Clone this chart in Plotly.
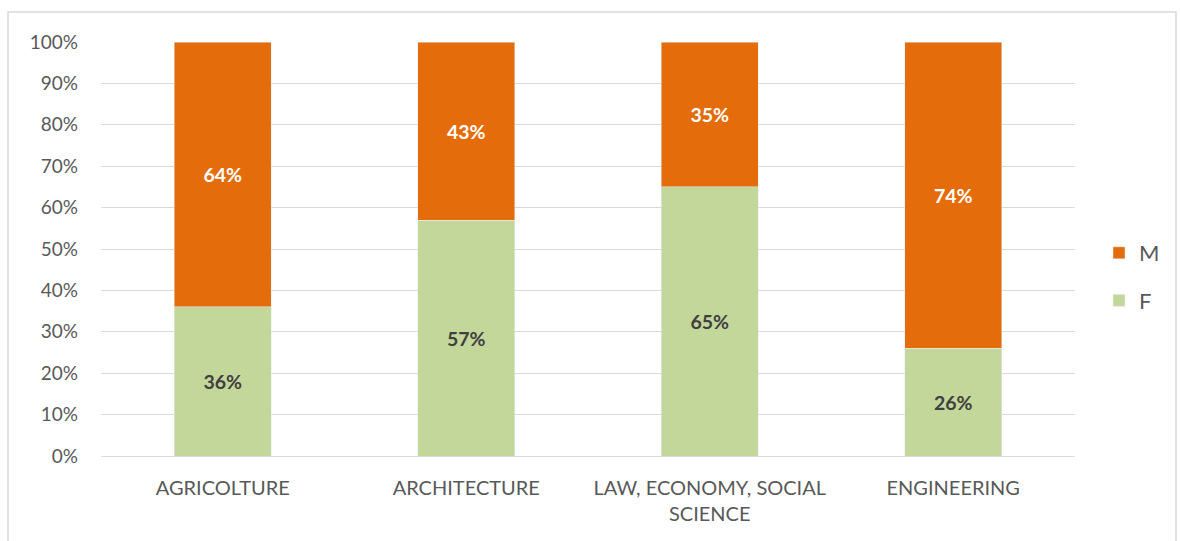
import plotly.graph_objects as go

categories = ["AGRICOLTURE", "ARCHITECTURE", "LAW, ECONOMY, SOCIAL<br>SCIENCE", "ENGINEERING"]
female = [36, 57, 65, 26]
male = [64, 43, 35, 74]
tick_vals = [0, 10, 20, 30, 40, 50, 60, 70, 80, 90, 100]
tick_text = [f"{v}%" for v in tick_vals]

FONT = "Lato, 'Open Sans', sans-serif"
GREEN = "#C4D79B"
ORANGE = "#E46C0A"

fig = go.Figure()
fig.add_trace(go.Bar(
    x=categories, y=female, name="F", marker_color=GREEN,
    text=[f"{v}%" for v in female], textposition="inside", insidetextanchor="middle",
    textfont=dict(family=FONT, size=19.5, color="#404040", weight="bold"),
    legendrank=2, legendgroup="F", width=0.4,
))
fig.add_trace(go.Bar(
    x=categories, y=male, name="M", marker_color=ORANGE,
    text=[f"{v}%" for v in male], textposition="inside", insidetextanchor="middle",
    textfont=dict(family=FONT, size=19.5, color="white", weight="bold"),
    legendrank=1, legendgroup="M", width=0.4,
))

L, R, T, B = 101, 105, 42, 85
W, H = 1180, 541
pw, ph = W - L - R, H - T - B

fig.update_layout(
    barmode="stack",
    width=W, height=H,
    margin=dict(l=L, r=R, t=T, b=B, autoexpand=False),
    plot_bgcolor="white", paper_bgcolor="white",
    font=dict(family=FONT, color="#595959"),
    showlegend=True,
    legend=dict(
        xref="container", yref="container",
        x=1099 / W, y=1 - 277 / H, xanchor="left", yanchor="middle",
        traceorder="grouped", tracegroupgap=16,
        font=dict(size=22, color="#595959"),
        itemwidth=30,
    ),
    uniformtext=dict(mode="show", minsize=10),
    xaxis=dict(
        tickfont=dict(size=20, color="#595959"),
        showline=True, linecolor="#D9D9D9", linewidth=1,
        ticks="", showgrid=False, ticklabelstandoff=14,
    ),
    yaxis=dict(
        range=[0, 100], tickvals=tick_vals, ticktext=tick_text,
        tickfont=dict(size=19, color="#595959"),
        showgrid=True, gridcolor="#D9D9D9", gridwidth=1,
        zeroline=False, ticks="", ticklen=0, ticklabelstandoff=22,
    ),
    shapes=[dict(
        type="rect", xref="paper", yref="paper",
        x0=(8 - L) / pw, x1=(1176 - L) / pw,
        y0=(H - 545 - B) / ph, y1=(H - 12 - B) / ph,
        line=dict(color="#D9D9D9", width=1.5), fillcolor="rgba(0,0,0,0)", layer="below",
    )],
)

fig.write_html("out.html")
